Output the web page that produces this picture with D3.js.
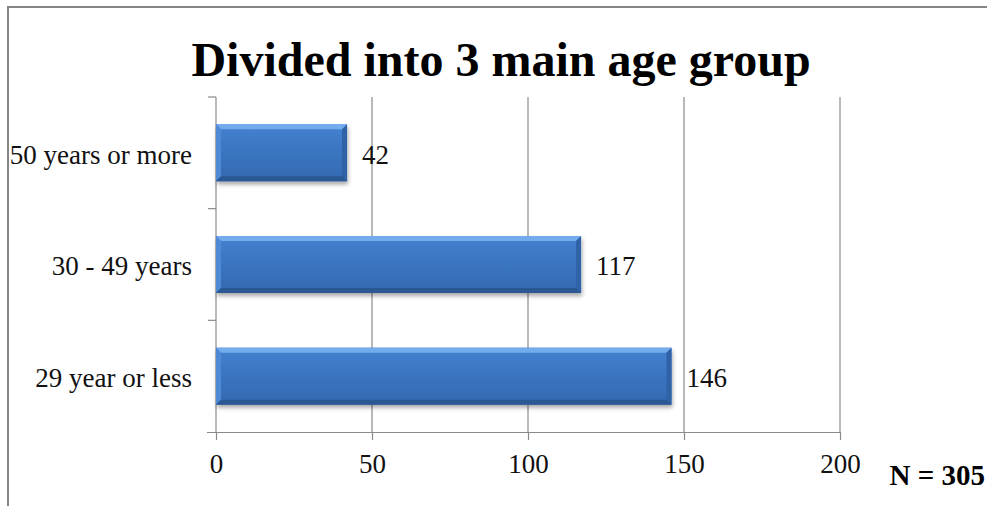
<!DOCTYPE html>
<html>
<head>
<meta charset="utf-8">
<script src="https://cdn.jsdelivr.net/npm/d3@7/dist/d3.min.js"></script>
<style>
  html, body { margin: 0; padding: 0; background: #fff; }
  svg { display: block; }
</style>
</head>
<body>
<svg id="chart" width="987" height="506"></svg>
<script>
// Age groups (top to bottom) and respondent counts
const categories = ["50 years or more", "30 - 49 years", "29 year or less"];
const counts = [42, 117, 146];
const xTicks = [0, 50, 100, 150, 200];
const titleText = "Divided into 3 main age group";
const totalText = "N = 305";

const svg = d3.select("#chart");
const W = 987, H = 506;
const plot = { left: 216, right: 840, top: 97, bottom: 432 };
const serif = "'Liberation Serif', 'Times New Roman', serif";
const labelSize = 27;

// Outer frame (runs off the right and bottom edges)
svg.append("rect")
  .attr("x", 8).attr("y", 7)
  .attr("width", W).attr("height", H)
  .attr("fill", "#fff")
  .attr("stroke", "#868686").attr("stroke-width", 2);

const x = d3.scaleLinear().domain([0, 200]).range([plot.left, plot.right]);
const y = d3.scaleBand().domain(categories).range([plot.top, plot.bottom]).paddingInner(0.49).paddingOuter(0.245);

const defs = svg.append("defs");
const grad = defs.append("linearGradient").attr("id", "barFill").attr("x1", 0).attr("y1", 0).attr("x2", 0).attr("y2", 1);
grad.append("stop").attr("offset", "0%").attr("stop-color", "#4482cf");
grad.append("stop").attr("offset", "50%").attr("stop-color", "#3a74c0");
grad.append("stop").attr("offset", "100%").attr("stop-color", "#3469b1");
const shadow = defs.append("filter").attr("id", "shadow").attr("x", "-5%").attr("y", "-20%").attr("width", "115%").attr("height", "160%");
shadow.append("feDropShadow").attr("dx", 1).attr("dy", 3).attr("stdDeviation", 2.2).attr("flood-color", "#000").attr("flood-opacity", 0.35);

// Vertical gridlines
const gridColor = "#8a8a8a";
svg.append("g").selectAll("line")
  .data(xTicks.filter(d => d > 0))
  .join("line")
  .attr("x1", d => x(d)).attr("x2", d => x(d))
  .attr("y1", plot.top).attr("y2", plot.bottom)
  .attr("stroke", gridColor).attr("stroke-width", 1.2);

// Bottom value axis
const xAxis = svg.append("g")
  .attr("transform", `translate(0,${plot.bottom})`)
  .call(d3.axisBottom(x).tickValues(xTicks).tickSize(8).tickPadding(14));
xAxis.select(".domain").attr("d", `M${plot.left - 9},0.5H${plot.right}`).attr("stroke", gridColor).attr("stroke-width", 1.2);
xAxis.selectAll(".tick line").attr("stroke", gridColor).attr("stroke-width", 1.2);
xAxis.selectAll(".tick text")
  .attr("font-family", serif).attr("font-size", labelSize).attr("fill", "#111");

// Left category axis
const yAxisScale = d3.scalePoint().domain(d3.range(categories.length + 1)).range([plot.top, plot.bottom]);
const yAxis = svg.append("g").attr("transform", `translate(${plot.left},0)`);
yAxis.append("line")
  .attr("x1", 0).attr("x2", 0).attr("y1", plot.top).attr("y2", plot.bottom)
  .attr("stroke", gridColor).attr("stroke-width", 1.2);
yAxis.selectAll("line.tk")
  .data(yAxisScale.domain().slice(0, -1))
  .join("line").attr("class", "tk")
  .attr("x1", -8).attr("x2", 0)
  .attr("y1", d => yAxisScale(d)).attr("y2", d => yAxisScale(d))
  .attr("stroke", gridColor).attr("stroke-width", 1.2);
yAxis.selectAll("text")
  .data(categories)
  .join("text")
  .attr("x", -24).attr("y", d => y(d) + y.bandwidth() / 2)
  .attr("dy", "0.4em")
  .attr("text-anchor", "end")
  .attr("font-family", serif).attr("font-size", labelSize).attr("fill", "#111")
  .text(d => d);

// Bevelled bars
const bev = 5;
const bars = svg.append("g").selectAll("g")
  .data(categories.map((c, i) => ({ c, v: counts[i] })))
  .join("g")
  .attr("transform", d => `translate(${x(0)},${y(d.c)})`);

bars.append("rect")
  .attr("width", d => x(d.v) - x(0)).attr("height", y.bandwidth())
  .attr("fill", "url(#barFill)")
  .attr("filter", "url(#shadow)");
// top highlight
bars.append("path")
  .attr("d", d => { const w = x(d.v) - x(0); return `M0,0H${w}L${w - bev},${bev}H${bev}Z`; })
  .attr("fill", "#73abec");
// left edge
bars.append("path")
  .attr("d", d => { const h = y.bandwidth(); return `M0,0L${bev},${bev}V${h - bev}L0,${h}Z`; })
  .attr("fill", "#4f8ad6");
// right edge
bars.append("path")
  .attr("d", d => { const w = x(d.v) - x(0), h = y.bandwidth(); return `M${w},0V${h}L${w - bev},${h - bev}V${bev}Z`; })
  .attr("fill", "#2f62a6");
// bottom edge
bars.append("path")
  .attr("d", d => { const w = x(d.v) - x(0), h = y.bandwidth(); return `M0,${h}L${bev},${h - bev}H${w - bev}L${w},${h}Z`; })
  .attr("fill", "#2b5792");

// Value labels
bars.append("text")
  .attr("x", d => x(d.v) - x(0) + 15)
  .attr("y", y.bandwidth() / 2)
  .attr("dy", "0.4em")
  .attr("font-family", serif).attr("font-size", labelSize).attr("fill", "#111")
  .text(d => d.v);

// Title
svg.append("text")
  .attr("x", 501).attr("y", 76)
  .attr("text-anchor", "middle")
  .attr("font-family", serif).attr("font-weight", "bold").attr("font-size", 48)
  .attr("fill", "#000")
  .text(titleText);

// Sample size note
svg.append("text")
  .attr("x", 985).attr("y", 485)
  .attr("text-anchor", "end")
  .attr("font-family", serif).attr("font-weight", "bold").attr("font-size", 29)
  .attr("fill", "#000")
  .text(totalText);
</script>
</body>
</html>
